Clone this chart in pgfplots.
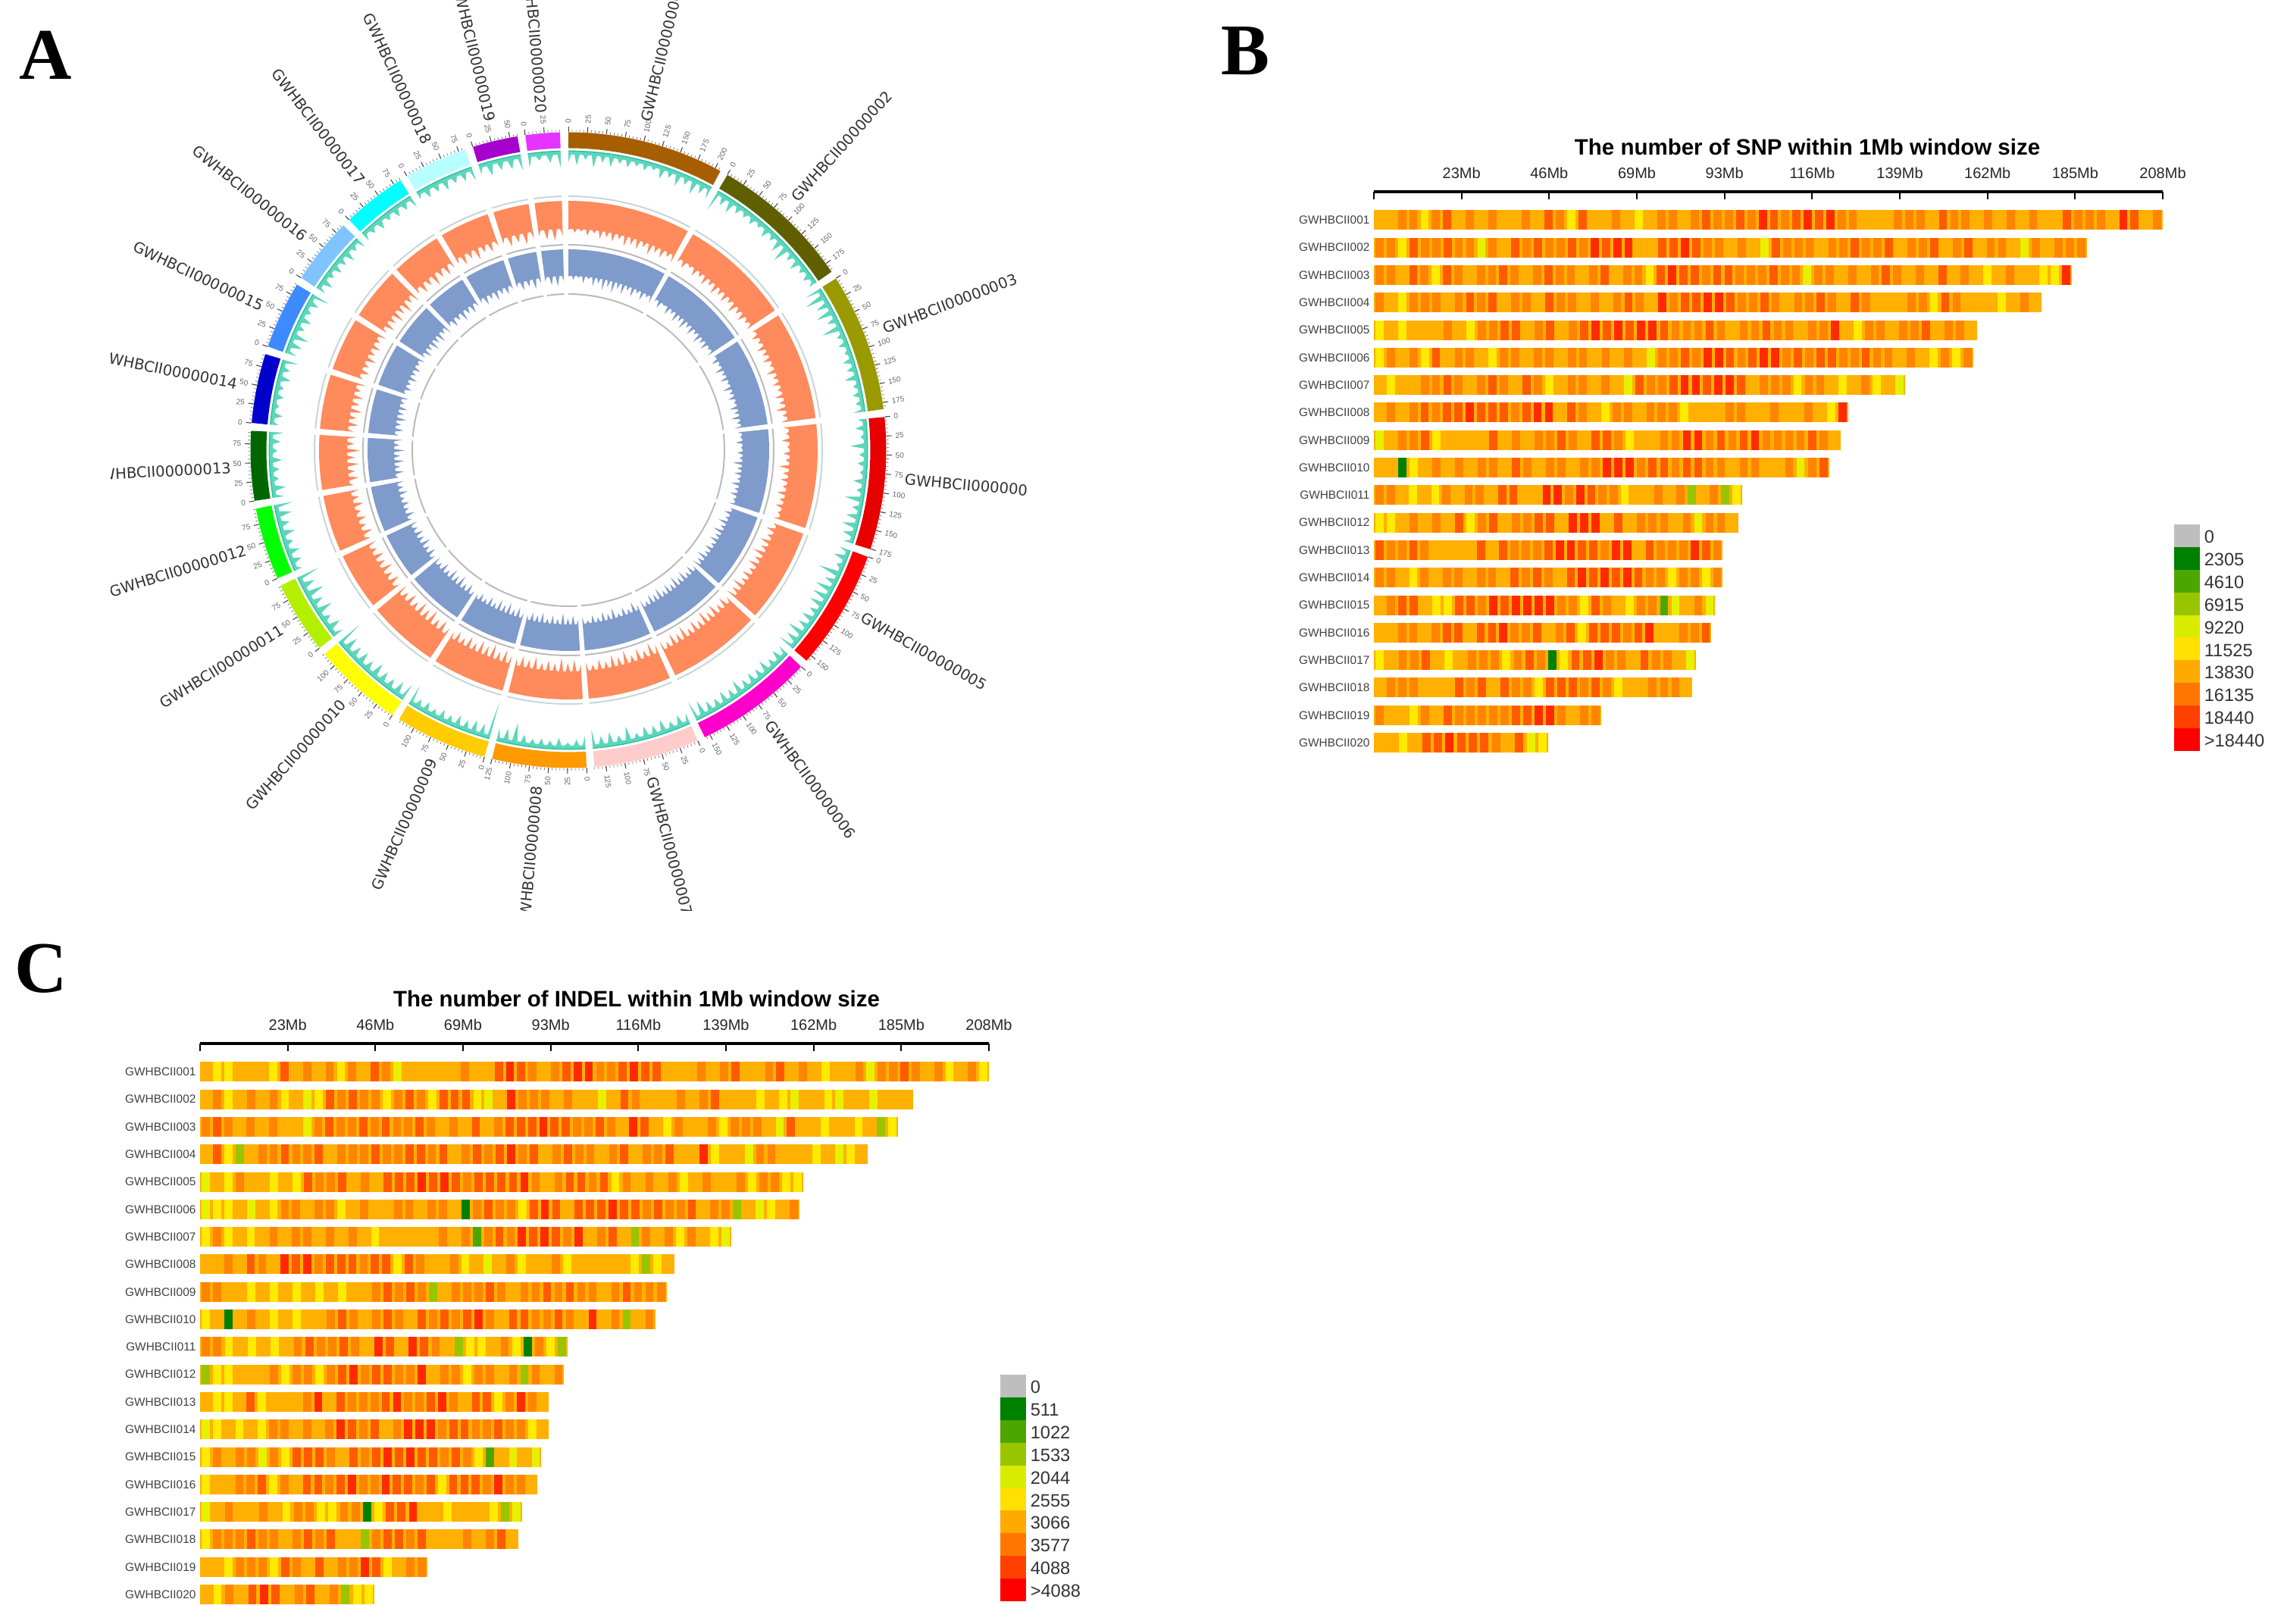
\documentclass[border=0pt]{standalone}
\usepackage{fontspec}
\usepackage{pgfplots}
\pgfplotsset{compat=1.18}
\setmainfont{Liberation Sans}
\newfontfamily\dejavu{DejaVu Sans}
\newfontfamily\timesf{Liberation Serif}

% heat levels, as in the legends
\definecolor{L0}{HTML}{BEBEBE}\definecolor{L1}{HTML}{008000}\definecolor{L2}{HTML}{4DA600}
\definecolor{L3}{HTML}{99C400}\definecolor{L4}{HTML}{D9EC00}\definecolor{L5}{HTML}{FFE000}
\definecolor{L6}{HTML}{FFAA00}\definecolor{L7}{HTML}{FF7700}\definecolor{L8}{HTML}{FF4000}
\definecolor{L9}{HTML}{FF0000}
% the strips themselves look a little softer than the legend
\definecolor{S4}{HTML}{E8F000}\definecolor{S5}{HTML}{FFEA00}\definecolor{S6}{HTML}{FFB000}
\definecolor{S7}{HTML}{FF8400}\definecolor{S8}{HTML}{FF5A00}\definecolor{S9}{HTML}{FF2A00}
\definecolor{Sback}{HTML}{FFB000}
% chromosome rim
\definecolor{c1}{HTML}{A65E00}\definecolor{c2}{HTML}{5F5F00}\definecolor{c3}{HTML}{999900}
\definecolor{c4}{HTML}{E60000}\definecolor{c5}{HTML}{FF0000}\definecolor{c6}{HTML}{FF00CC}
\definecolor{c7}{HTML}{FFCCCC}\definecolor{c8}{HTML}{FF9900}\definecolor{c9}{HTML}{FFCC00}
\definecolor{c10}{HTML}{FFFF00}\definecolor{c11}{HTML}{B2F000}\definecolor{c12}{HTML}{00FF00}
\definecolor{c13}{HTML}{006600}\definecolor{c14}{HTML}{0000CC}\definecolor{c15}{HTML}{3D8BFF}
\definecolor{c16}{HTML}{80C4FF}\definecolor{c17}{HTML}{00FFFF}\definecolor{c18}{HTML}{B8FFFF}
\definecolor{c19}{HTML}{A600CC}\definecolor{c20}{HTML}{E633FF}
\definecolor{tealx}{HTML}{22C19F}\definecolor{teall}{HTML}{5ED6BC}\definecolor{orangex}{HTML}{FF8A5C}\definecolor{bluex}{HTML}{7F9BCB}
\definecolor{greyout}{HTML}{C9D6D6}\definecolor{greyin}{HTML}{BBBBBB}

\pgfdeclareplotmark{cell}{\pgfpathrectangle{\pgfqpoint{-1.35pt}{-3.25pt}}{\pgfqpoint{2.7pt}{6.5pt}}\pgfusepathqfill}

\pgfplotsset{
  strip/.style={scatter,only marks,mark=cell,point meta=explicit symbolic,
    scatter/classes={
      1={mark=cell,fill=L1,draw=none},2={mark=cell,fill=L2,draw=none},
      3={mark=cell,fill=L3,draw=none},4={mark=cell,fill=S4,draw=none},5={mark=cell,fill=S5,draw=none},
      6={mark=cell,fill=S6,draw=none},7={mark=cell,fill=S7,draw=none},8={mark=cell,fill=S8,draw=none},
      9={mark=cell,fill=S9,draw=none}}},
  heat/.style={scale only axis,width=260.25pt,height=186.3pt,xmin=0,xmax=208,ymin=0.5,ymax=21.028,clip=false,
    axis x line*=top,axis y line*=left,x axis line style={-,black,line width=0.8pt},
    y axis line style={draw=none},ytick style={draw=none},
    xtick style={black,line width=0.5pt},tick align=inside,major tick length=2.6pt,
    xtick={0,23.11,46.22,69.33,92.44,115.56,138.67,161.78,184.89,208},
    xticklabels={,23Mb,46Mb,69Mb,93Mb,116Mb,139Mb,162Mb,185Mb,208Mb},
    xticklabel pos=upper,
    xticklabel style={font=\fontsize{5}{5}\selectfont,text=black!85,inner sep=0pt,yshift=4pt},
    ytick={1,...,20},
    yticklabels={GWHBCII020,GWHBCII019,GWHBCII018,GWHBCII017,GWHBCII016,GWHBCII015,GWHBCII014,GWHBCII013,GWHBCII012,GWHBCII011,GWHBCII010,GWHBCII009,GWHBCII008,GWHBCII007,GWHBCII006,GWHBCII005,GWHBCII004,GWHBCII003,GWHBCII002,GWHBCII001},
    yticklabel style={font=\fontsize{3.85}{4}\selectfont,text=black!75,inner sep=0pt,xshift=-1.2pt}}
}

% one row of a heat panel: row, length in Mb, levels of its windows
\newcommand\strip[3]{%
  \foreach \v [count=\n] in {#3} {\xdef\nn{\n}}%
  \gdef\cells{}%
  \foreach \v [count=\i] in {#3} {%
    \pgfmathsetmacro\xx{(\i-0.5)*#2/\nn}%
    \xdef\cells{\cells (\xx,#1) [\v]}%
  }%
  \addplot[draw=Sback,line width=6.5pt,line cap=butt] coordinates {(0,#1) (#2,#1)};
  \edef\tmp{\noexpand\addplot[strip] coordinates {\cells};}\tmp
}
% constant-radius arc of a sector, angles clockwise from the top
\newcommand\ring[5]{%
  \pgfmathtruncatemacro\nn{ceil((#3-#2)/2)+1}%
  \gdef\pts{}%
  \foreach \k in {1,...,\nn} {%
    \pgfmathsetmacro\aa{90-(#2+(\k-1)*(#3-#2)/(\nn-1))}%
    \xdef\pts{\pts (\aa,#4)}%
  }%
  \edef\tmp{\noexpand\addplot[#1,line width=#5,line cap=butt] coordinates {\pts};}\tmp
}
% histogram track: colour, r0, valley depth, sector start and end, tip depths
\newcommand\track[6]{%
  \foreach \v [count=\n] in {#6} {\xdef\nn{\n}}%
  \gdef\fw{}\gdef\bk{}%
  \pgfmathsetmacro\rv{#2-#3}%
  \foreach \v [count=\k] in {#6} {%
    \pgfmathsetmacro\aa{90-(#4+(\k-1)*(#5-#4)/(\nn-1))}%
    \pgfmathsetmacro\rr{#2-\v}%
    \ifnum\k>1
      \pgfmathsetmacro\ma{\pa+0.3*(\aa-\pa)}\pgfmathsetmacro\mb{\pa+0.7*(\aa-\pa)}%
      \xdef\fw{\fw (\ma,\rv) (\mb,\rv)}%
    \fi
    \xdef\pa{\aa}%
    \xdef\fw{\fw (\aa,\rr)}%
    \xdef\bk{(\aa,#2) \bk}%
  }%
  \edef\tmp{\noexpand\addplot[fill=#1,draw=none] coordinates {\fw \bk} -- cycle;}\tmp
}

\begin{document}
\begin{tikzpicture}
\path[use as bounding box] (0,0) rectangle (753.5pt,535.5pt);

%% panel A
\begin{scope}
\clip (36.5pt,535.5pt) rectangle (338.5pt,235pt);
\begin{axis}[at={(37.5pt,235.5pt)},anchor=south west,scale only axis,width=300pt,height=300pt,
  xmin=-600,xmax=600,ymin=-606,ymax=594,hide axis,clip=false,data cs=polar]
\ring{draw=c1}{0}{28.6}{409}{5.25pt}\ring{draw=c2}{30}{55.9}{409}{5.25pt}
\ring{draw=c3}{57.3}{82.6}{409}{5.25pt}\ring{draw=c4}{84}{108.2}{409}{5.25pt}
\ring{draw=c5}{109.6}{131.5}{409}{5.25pt}\ring{draw=c6}{132.9}{154.6}{409}{5.25pt}
\ring{draw=c7}{156}{175.3}{409}{5.25pt}\ring{draw=c8}{176.7}{193.9}{409}{5.25pt}
\ring{draw=c9}{195.3}{212.2}{409}{5.25pt}\ring{draw=c10}{213.6}{230.1}{409}{5.25pt}
\ring{draw=c11}{231.5}{244.8}{409}{5.25pt}\ring{draw=c12}{246.2}{259.4}{409}{5.25pt}
\ring{draw=c13}{260.8}{273.5}{409}{5.25pt}\ring{draw=c14}{274.9}{287.6}{409}{5.25pt}
\ring{draw=c15}{289}{301.4}{409}{5.25pt}\ring{draw=c16}{302.8}{315}{409}{5.25pt}
\ring{draw=c17}{316.4}{328.1}{409}{5.25pt}\ring{draw=c18}{329.5}{341.1}{409}{5.25pt}
\ring{draw=c19}{342.5}{350.8}{409}{5.25pt}\ring{draw=c20}{352.2}{358.5}{409}{5.25pt}
% grey frames of the inner tracks
\foreach \sa/\sb in {0/28.6,30/55.9,57.3/82.6,84/108.2,109.6/131.5,132.9/154.6,156/175.3,176.7/193.9,195.3/212.2,213.6/230.1,231.5/244.8,246.2/259.4,260.8/273.5,274.9/287.6,289/301.4,302.8/315,316.4/328.1,329.5/341.1,342.5/350.8,352.2/358.5}{%
  \ring{draw=greyout}{\sa}{\sb}{335}{0.5pt}%
  \ring{draw=greyin}{\sa}{\sb}{271}{0.5pt}%
  \ring{draw=greyin}{\sa}{\sb}{206}{0.5pt}%
  \ring{draw=tealx}{\sa}{\sb}{394}{0.7pt}%
}
% spikes just inside the rim
\track{teall}{394}{4}{0}{28.6}{14,18,10,20,12,16,10,13,9,12,8,16,11,18,12,20,14,16}
\track{teall}{394}{4}{30}{55.9}{28,14,18,12,10,12,8,14,10,18,24,12,16,10,12,10}
\track{teall}{394}{4}{57.3}{82.6}{22,28,18,24,14,26,10,12,8,14,12,18,9,12,10,14}
\track{teall}{394}{4}{84}{108.2}{10,14,8,22,10,12,8,16,10,24,12,18,20,16,12}
\track{teall}{394}{4}{109.6}{131.5}{14,18,10,30,16,24,22,20,14,18,16,24,18,22}
\track{teall}{394}{4}{132.9}{154.6}{14,16,12,18,14,16,14,20,14,18,14,16,22,26}
\track{teall}{394}{4}{156}{175.3}{14,16,12,18,14,16,10,22,12,18,14,24}
\track{teall}{394}{4}{176.7}{193.9}{16,12,8,14,10,12,10,14,28,18,16}
\track{teall}{394}{4}{195.3}{212.2}{50,16,18,14,16,12,14,10,14,12,26}
\track{teall}{394}{4}{213.6}{230.1}{22,18,14,16,20,14,18,16,20,34}
\track{teall}{394}{4}{231.5}{244.8}{14,18,12,22,16,24,18,30}
\track{teall}{394}{4}{246.2}{259.4}{10,14,16,12,18,14,20,24}
\track{teall}{394}{4}{260.8}{273.5}{14,18,10,12,16,10,14,18}
\track{teall}{394}{4}{274.9}{287.6}{10,14,8,12,10,16,12,20}
\track{teall}{394}{4}{289}{301.4}{14,18,22,12,16,10,14,24}
\track{teall}{394}{4}{302.8}{315}{12,16,10,14,12,16,10,14}
\track{teall}{394}{4}{316.4}{328.1}{12,10,14,10,14,12,16}
\track{teall}{394}{4}{329.5}{341.1}{10,14,12,16,12,14,18}
\track{teall}{394}{4}{342.5}{350.8}{12,18,14,16,20}
\track{teall}{394}{4}{352.2}{358.5}{18,10,14,22}
% orange track
\track{orangex}{329}{37}{0}{28.6}{38,42,40,45,41,47,44,48,43,50,46,49,44,51,45,48,43,47}
\track{orangex}{329}{37}{30}{55.9}{42,46,40,47,43,49,44,50,45,48,43,50,44,47,42,45}
\track{orangex}{329}{37}{57.3}{82.6}{40,46,42,48,44,47,41,49,43,46,42,48,44,50,43,46}
\track{orangex}{329}{37}{84}{108.2}{44,41,47,40,45,42,50,44,46,42,48,43,46,41,44}
\track{orangex}{329}{37}{109.6}{131.5}{42,48,44,50,45,52,46,50,44,49,45,52,47,50}
\track{orangex}{329}{37}{132.9}{154.6}{44,50,46,53,48,55,47,52,46,54,48,52,45,49}
\track{orangex}{329}{37}{156}{175.3}{48,54,47,52,46,55,48,53,46,50,44,48}
\track{orangex}{329}{37}{176.7}{193.9}{46,52,48,55,47,50,46,53,48,51,46}
\track{orangex}{329}{37}{195.3}{212.2}{47,53,48,56,50,54,47,52,46,50,45}
\track{orangex}{329}{37}{213.6}{230.1}{46,52,48,55,50,54,47,52,46,50}
\track{orangex}{329}{37}{231.5}{244.8}{44,50,46,52,47,50,45,48}
\track{orangex}{329}{37}{246.2}{259.4}{44,50,45,48,44,50,46,48}
\track{orangex}{329}{37}{260.8}{273.5}{42,50,46,52,47,54,46,50}
\track{orangex}{329}{37}{274.9}{287.6}{44,50,46,52,47,50,44,48}
\track{orangex}{329}{37}{289}{301.4}{42,48,44,50,45,48,43,47}
\track{orangex}{329}{37}{302.8}{315}{44,50,46,52,47,53,45,50}
\track{orangex}{329}{37}{316.4}{328.1}{44,50,46,53,47,50,45}
\track{orangex}{329}{37}{329.5}{341.1}{44,50,46,52,46,49,44}
\track{orangex}{329}{37}{342.5}{350.8}{44,50,47,52,46}
\track{orangex}{329}{37}{352.2}{358.5}{44,50,52,46}
% blue track
\track{bluex}{265}{35}{0}{28.6}{36,40,37,44,38,46,42,49,44,50,43,48,41,47,40,46,39,44}
\track{bluex}{265}{35}{30}{55.9}{38,44,37,45,40,47,42,48,41,46,40,47,42,45,38,43}
\track{bluex}{265}{35}{57.3}{82.6}{36,44,38,46,40,45,38,47,40,44,38,46,41,47,40,44}
\track{bluex}{265}{35}{84}{108.2}{40,38,44,37,42,39,47,41,44,39,46,40,44,38,42}
\track{bluex}{265}{35}{109.6}{131.5}{38,44,40,47,41,48,42,46,40,45,41,48,43,46}
\track{bluex}{265}{35}{132.9}{154.6}{40,46,42,48,44,50,43,47,42,49,44,47,41,45}
\track{bluex}{265}{35}{156}{175.3}{42,48,41,46,40,49,43,47,41,45,39,44}
\track{bluex}{265}{35}{176.7}{193.9}{41,47,43,50,42,46,41,48,43,46,41}
\track{bluex}{265}{35}{195.3}{212.2}{42,48,43,50,45,49,42,47,41,45,40}
\track{bluex}{265}{35}{213.6}{230.1}{41,47,43,50,45,49,42,47,41,45}
\track{bluex}{265}{35}{231.5}{244.8}{40,46,42,48,43,46,41,44}
\track{bluex}{265}{35}{246.2}{259.4}{40,46,41,44,40,46,42,44}
\track{bluex}{265}{35}{260.8}{273.5}{38,46,42,48,43,49,42,46}
\track{bluex}{265}{35}{274.9}{287.6}{40,46,42,48,43,46,40,44}
\track{bluex}{265}{35}{289}{301.4}{38,44,40,46,41,44,39,43}
\track{bluex}{265}{35}{302.8}{315}{40,46,42,48,43,48,41,46}
\track{bluex}{265}{35}{316.4}{328.1}{40,46,42,48,43,46,41}
\track{bluex}{265}{35}{329.5}{341.1}{40,46,42,47,42,45,40}
\track{bluex}{265}{35}{342.5}{350.8}{40,46,43,48,42}
\track{bluex}{265}{35}{352.2}{358.5}{40,46,48,42}
\end{axis}

% rim ticks, their labels and the sequence names
\begin{scope}[shift={(187.5pt,387pt)},x=0.25pt,y=0.25pt]
\foreach \s/\L in {0/208,30/188,57.3/184,84/176,109.6/159,132.9/158,156/140,176.7/125,195.3/123,213.6/120,231.5/97,246.2/96,260.8/92,274.9/92,289/90,302.8/89,316.4/85,329.5/84,342.5/60,352.2/46}{%
  \foreach \m in {0,5,...,\L}{\pgfmathsetmacro\t{90-(\s+\m*0.1376)}\draw[black!65,line width=0.15pt] (\t:420)--(\t:423);}%
  \foreach \m in {0,25,...,\L}{%
    \pgfmathsetmacro\t{90-(\s+\m*0.1376)}%
    \draw[black!75,line width=0.25pt] (\t:420)--(\t:427);
    \pgfmathparse{(\s+\m*0.1376)<180?1:0}%
    \ifnum\pgfmathresult=1
      \node[font=\fontsize{2.5}{2.5}\selectfont,text=black!60,inner sep=0pt,anchor=west,rotate=\t] at (\t:431) {\m};
    \else
      \pgfmathsetmacro\u{\t+180}%
      \node[font=\fontsize{2.5}{2.5}\selectfont,text=black!60,inner sep=0pt,anchor=east,rotate=\u] at (\t:431) {\m};
    \fi
  }%
}
\foreach \t/\n in {13.3/01,42/02,69/03,95/04,119.5/05,143.7/06,165.6/07}{%
  \pgfmathsetmacro\tt{90-\t}%
  \node[font=\dejavu\fontsize{4.9}{5}\selectfont,text=black!80,inner sep=0pt,anchor=west,rotate=\tt] at (\tt:445) {GWHBCII000000\n};
}
\foreach \t/\n in {185.3/08,203.7/09,221.8/10,238/11,252.8/12,267/13,281.3/14,295.2/15,308.9/16,322.3/17,335.3/18,346.7/19,355.4/20}{%
  \pgfmathsetmacro\tt{90-\t}\pgfmathsetmacro\rr{\tt+180}%
  \node[font=\dejavu\fontsize{4.9}{5}\selectfont,text=black!80,inner sep=0pt,anchor=east,rotate=\rr] at (\tt:445) {GWHBCII000000\n};
}
\end{scope}
\end{scope}

%% panel B
\begin{axis}[heat,at={(453.25pt,285.95pt)},anchor=south west]
\strip{20}{208}{6,6,7,7,5,7,8,6,7,6,7,6,6,7,6,8,7,5,8,6,6,7,6,5,6,7,7,6,7,8,7,7,8,7,9,8,7,8,9,8,9,7,7,6,6,6,7,7,7,6,8,7,7,6,7,6,7,6,7,6,6,8,7,7,7,6,9,8,6,7}
\strip{19}{188}{7,7,5,8,7,7,8,7,7,4,7,6,8,7,8,7,7,8,7,9,8,9,9,6,6,8,8,9,8,7,7,6,7,6,4,8,7,7,7,6,7,7,8,7,7,8,6,7,7,8,6,7,8,6,7,7,6,4,7,6,7,7,7}
\strip{18}{184}{7,7,6,8,7,5,8,7,6,7,7,8,7,6,7,8,7,7,6,7,8,6,7,7,5,8,9,8,8,7,8,8,7,7,7,8,7,7,4,7,7,6,7,6,7,8,7,6,7,6,8,6,7,6,5,6,7,6,6,5,5,9}
\strip{17}{176}{7,6,5,7,7,7,6,7,8,7,8,6,7,7,6,8,7,7,6,7,6,7,8,7,6,9,7,8,8,9,9,8,7,7,8,7,6,7,7,8,7,6,8,7,6,6,6,7,7,5,8,7,6,6,6,5,6,7,6}
\strip{16}{159}{5,6,5,6,6,6,7,6,5,7,7,8,8,6,7,8,6,7,8,9,8,9,8,9,9,8,7,7,7,8,7,6,7,7,8,7,7,6,7,7,9,6,5,7,7,6,7,7,8,6,7,7,6}
\strip{15}{158}{5,7,6,7,5,8,6,7,7,6,5,7,7,6,7,7,6,7,7,6,7,6,7,6,4,7,7,8,7,9,9,8,7,8,9,9,7,8,7,8,8,7,7,8,7,7,6,7,6,5,7,5,7}
\strip{14}{140}{6,5,6,6,7,7,8,7,6,7,8,7,6,8,7,5,6,7,7,6,7,6,4,8,7,7,8,9,9,8,9,9,8,6,7,7,7,5,7,7,6,5,6,7,5,6,4}
\strip{13}{125}{6,7,6,7,8,7,8,8,9,8,8,8,7,8,9,9,6,8,7,6,5,7,7,6,7,7,7,5,6,6,6,7,7,6,6,7,6,6,7,6,5,9}
\strip{12}{123}{4,6,7,7,8,5,6,6,6,6,8,6,7,6,7,7,8,7,6,8,8,7,5,6,6,7,7,9,9,7,8,7,8,9,7,7,7,7,8,7,6}
\strip{11}{120}{6,6,1,5,6,7,6,7,6,7,7,6,8,7,6,7,7,6,7,7,9,9,9,7,8,8,7,8,8,7,7,6,7,7,6,6,7,4,7,8}
\strip{10}{97}{7,7,6,5,6,5,7,6,7,7,6,8,8,6,6,9,9,7,9,8,7,7,5,6,6,7,6,7,3,6,7,3,5}
\strip{9}{96}{5,5,6,7,6,7,6,8,5,7,8,6,7,7,8,8,6,9,9,9,6,8,6,7,7,7,6,7,4,7,7,6}
\strip{8}{92}{8,7,7,8,7,6,6,6,6,8,6,8,7,7,7,8,9,9,8,8,7,9,9,6,8,7,7,7,9,8,7}
\strip{7}{92}{7,7,6,5,7,6,7,7,6,7,7,6,8,7,8,7,6,8,9,8,9,8,9,8,7,7,5,7,7,5,7}
\strip{6}{90}{6,7,8,8,6,5,5,8,8,7,9,8,9,9,9,9,7,7,5,8,7,6,5,7,7,2,4,6,7,4}
\strip{5}{89}{6,6,7,7,6,7,8,8,6,8,8,9,7,7,8,6,7,8,5,8,8,8,7,8,9,6,6,7,7,8}
\strip{4}{85}{5,6,7,7,8,6,5,6,7,7,7,5,7,8,7,1,5,8,8,9,7,7,6,8,7,7,6,4}
\strip{3}{84}{6,7,7,7,6,6,6,8,7,8,6,8,7,7,5,8,8,8,7,8,7,5,6,6,7,7,7,6}
\strip{2}{60}{7,6,6,5,7,6,8,7,7,7,7,7,8,8,9,9,7,6,7,7}
\strip{1}{46}{6,6,5,6,8,8,9,8,8,8,7,6,8,4,5}
\end{axis}

%% panel C
\begin{axis}[heat,at={(66pt,4.95pt)},anchor=south west]
\strip{20}{208}{6,5,5,6,6,6,5,8,6,7,6,7,5,7,6,8,7,4,6,6,6,6,6,7,6,6,8,9,8,7,6,7,8,9,9,7,7,8,9,8,8,6,6,6,7,6,7,8,6,6,7,8,6,7,6,5,6,6,7,4,7,7,8,7,6,7,5,6,7,5}
\strip{19}{188}{6,7,5,6,7,6,7,5,6,4,5,8,7,8,7,7,5,7,8,7,5,8,8,8,5,4,6,9,7,7,7,6,7,6,6,4,6,8,7,6,6,6,7,6,7,8,6,6,6,5,6,5,4,6,6,5,4,6,6,4,6,6,6}
\strip{18}{184}{7,8,7,6,7,6,7,6,6,4,7,8,7,7,8,7,8,7,7,8,7,6,7,6,8,6,7,8,8,8,9,8,8,7,7,8,7,6,9,8,6,5,7,6,6,7,5,7,7,7,6,4,8,6,6,5,6,6,5,6,3,5}
\strip{17}{176}{6,8,5,3,6,7,7,8,7,7,8,6,7,7,7,8,7,7,8,8,7,8,6,7,8,7,8,9,7,8,6,7,8,7,7,6,7,8,6,7,7,8,6,6,9,5,6,6,4,7,7,6,6,6,5,6,4,5,6}
\strip{16}{159}{4,6,5,7,6,6,5,6,5,8,7,7,8,6,7,6,8,8,8,9,8,9,8,7,8,8,8,8,9,7,6,7,8,8,7,8,5,7,6,7,6,7,5,6,7,6,6,7,5,7,7,5,5}
\strip{15}{158}{4,5,5,6,4,6,5,7,7,6,7,7,5,6,7,6,6,7,7,6,7,7,6,1,7,8,7,7,5,8,9,8,6,8,8,8,9,8,8,7,8,7,7,8,6,7,7,3,6,4,5,6,7}
\strip{14}{140}{5,7,5,6,5,6,7,6,7,7,6,7,6,7,6,5,6,6,6,6,6,7,6,7,2,7,8,7,9,8,9,8,7,9,6,7,8,6,3,7,6,7,5,7,6,5,4}
\strip{13}{125}{6,6,7,6,8,7,6,9,8,9,7,8,8,8,7,8,8,5,8,7,6,6,7,5,6,4,6,7,5,6,6,7,5,6,6,6,6,6,5,3,5,6}
\strip{12}{123}{7,7,6,6,5,6,5,6,5,6,5,6,5,6,6,7,8,7,8,7,3,6,7,7,7,8,7,6,7,7,8,7,8,7,7,6,7,8,7,7,7}
\strip{11}{120}{5,6,1,6,7,6,5,6,5,6,6,7,8,7,6,7,8,7,6,8,7,8,7,8,9,7,6,8,8,7,7,8,7,6,9,6,7,3,6,7}
\strip{10}{97}{7,7,5,6,5,6,5,6,7,8,7,7,8,7,6,9,8,6,9,8,7,6,3,5,5,6,7,5,1,7,5,3}
\strip{9}{96}{3,5,5,6,6,6,7,5,7,7,5,7,8,9,7,8,8,7,7,9,6,7,7,5,7,7,6,7,3,7,6,7}
\strip{8}{92}{6,5,5,6,8,5,6,6,6,7,9,6,8,7,7,7,8,9,7,7,8,9,7,6,8,8,5,7,9,7,6}
\strip{7}{92}{4,5,6,5,6,5,7,7,6,7,6,7,9,8,7,8,6,7,9,9,9,7,8,8,7,7,8,7,7,5,6}
\strip{6}{90}{5,7,6,7,7,4,7,5,8,8,8,7,6,8,7,8,9,8,9,8,8,7,8,7,5,2,6,4,6,4}
\strip{5}{89}{5,6,6,7,7,8,5,7,6,8,8,7,8,9,7,7,9,8,8,7,8,5,8,8,8,7,9,7,7,6}
\strip{4}{85}{4,6,7,6,6,7,6,5,7,7,5,5,7,7,1,5,8,8,9,6,6,5,6,6,6,5,3,4}
\strip{3}{84}{5,7,7,7,8,7,7,6,7,8,7,8,6,6,3,7,8,8,7,8,6,6,6,7,6,7,8,6}
\strip{2}{60}{6,6,5,7,7,7,5,8,7,6,8,6,7,7,9,8,5,6,7,7}
\strip{1}{46}{6,5,7,6,8,9,8,6,7,8,6,7,3,5,5}
\end{axis}

% titles
\node[font=\bfseries\fontsize{7.37}{8}\selectfont] at (596.25pt,487pt) {The number of SNP within 1Mb window size};
\node[font=\bfseries\fontsize{7.37}{8}\selectfont] at (210pt,206pt) {The number of INDEL within 1Mb window size};

% legends
\foreach \x/\y/\names in {2869/692/{0,2305,4610,6915,9220,11525,13830,16135,18440,>18440},1320/1814/{0,511,1022,1533,2044,2555,3066,3577,4088,>4088}}{%
  \foreach \lab [count=\i from 0] in \names {%
    \pgfmathsetmacro\ya{\y+\i*29.9}\pgfmathsetmacro\yb{\y+(\i+1)*29.9+0.4}\pgfmathsetmacro\xb{\x+34}\pgfmathsetmacro\xl{\x+39}\pgfmathsetmacro\yc{\y+(\i+0.55)*29.9}%
    \fill[L\i] ({\x*0.25pt},{(2142-\ya)*0.25pt}) rectangle ({\xb*0.25pt},{(2142-\yb)*0.25pt});
    \node[font=\fontsize{5.9}{6}\selectfont,text=black!80,anchor=west,inner sep=0pt] at ({\xl*0.25pt},{(2142-\yc)*0.25pt}) {\lab};
  }%
}

% panel letters
\node[font=\timesf\bfseries\fontsize{24}{24}\selectfont] at (15pt,517.25pt) {A};
\node[font=\timesf\bfseries\fontsize{24}{24}\selectfont] at (410.75pt,518.75pt) {B};
\node[font=\timesf\bfseries\fontsize{24}{24}\selectfont] at (13.5pt,216pt) {C};
\end{tikzpicture}
\end{document}
